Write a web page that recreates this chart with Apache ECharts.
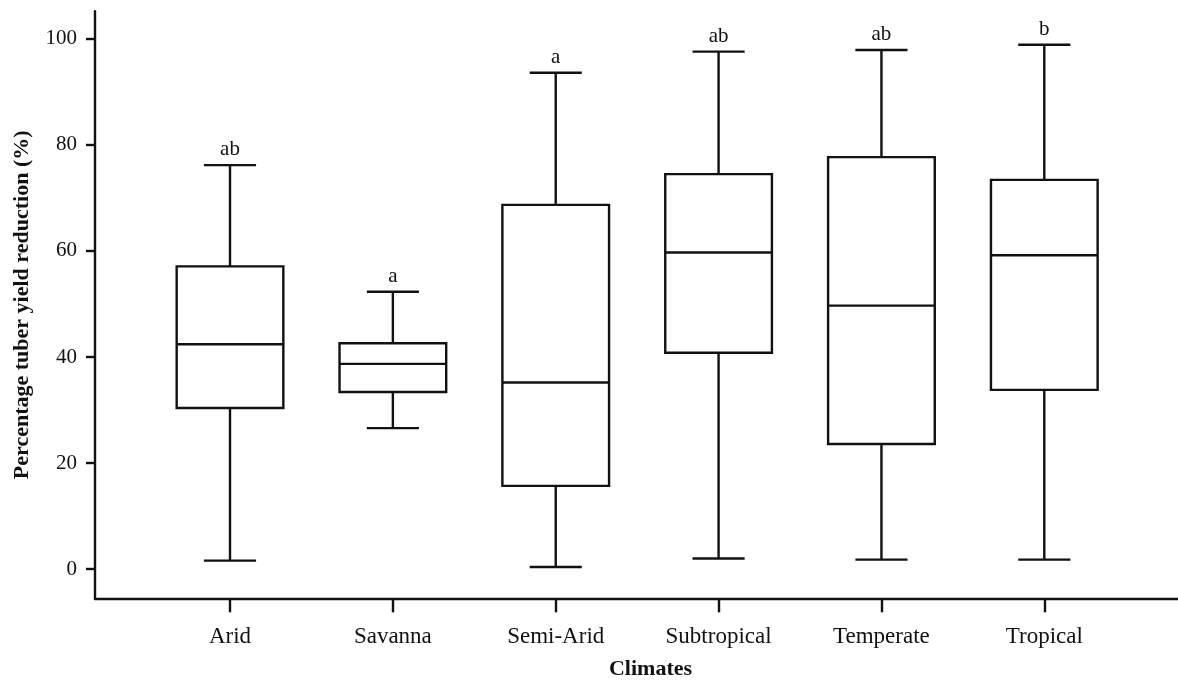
<!DOCTYPE html>
<html>
<head>
<meta charset="utf-8">
<script src="https://cdn.jsdelivr.net/npm/echarts@6/dist/echarts.min.js"></script>
<style>
  html, body { margin: 0; padding: 0; background: #fff; }
  #chart { width: 1178px; height: 682px; }
</style>
</head>
<body>
<div id="chart"></div>
<script>
// Climate groups and their five-number summaries (% tuber yield reduction)
const categories = ['Arid', 'Savanna', 'Semi-Arid', 'Subtropical', 'Temperate', 'Tropical'];
const minVals    = [1.6, 26.6, 0.4, 2.0, 1.8, 1.8];
const q1Vals     = [30.4, 33.4, 15.7, 40.8, 23.6, 33.8];
const medianVals = [42.4, 38.7, 35.2, 59.7, 49.7, 59.2];
const q3Vals     = [57.1, 42.6, 68.7, 74.5, 77.7, 73.4];
const maxVals    = [76.2, 52.3, 93.6, 97.6, 97.9, 98.9];
// Significance letters shown above each upper whisker
const letters    = ['ab', 'a', 'a', 'ab', 'ab', 'b'];
const yTicks     = [0, 20, 40, 60, 80, 100];

const catIndex = categories.map((_, i) => i);
const rows = categories.map((_, i) => [i, minVals[i], q1Vals[i], medianVals[i], q3Vals[i], maxVals[i]]);

const FONT = '"Liberation Serif", "Times New Roman", serif';
const INK = '#111';
const LW = 2.4;

const chart = echarts.init(document.getElementById('chart'));

function renderBox(params, api) {
  const i = api.value(0);
  const lo = api.coord([i, api.value(1)]);
  const q1 = api.coord([i, api.value(2)]);
  const md = api.coord([i, api.value(3)]);
  const q3 = api.coord([i, api.value(4)]);
  const hi = api.coord([i, api.value(5)]);
  const band = api.size([1, 0])[0];
  const bw = band * 0.655;
  const cw = band * 0.32;
  const x = lo[0];
  const ls = { stroke: INK, lineWidth: LW };
  const seg = (x1, y1, x2, y2) => ({ type: 'line', shape: { x1, y1, x2, y2 }, style: ls });
  return {
    type: 'group',
    children: [
      seg(x, q3[1], x, hi[1]),
      seg(x, q1[1], x, lo[1]),
      seg(x - cw / 2, hi[1], x + cw / 2, hi[1]),
      seg(x - cw / 2, lo[1], x + cw / 2, lo[1]),
      { type: 'rect', shape: { x: x - bw / 2, y: q3[1], width: bw, height: q1[1] - q3[1] },
        style: { fill: '#fff', stroke: INK, lineWidth: LW } },
      seg(x - bw / 2, md[1], x + bw / 2, md[1]),
      { type: 'text', x: x, y: hi[1] - 5,
        style: { text: letters[params.dataIndex], fill: INK, font: '21px ' + FONT,
                 align: 'center', verticalAlign: 'bottom' } }
    ]
  };
}

chart.setOption({
  animation: false,
  backgroundColor: '#fff',
  grid: { left: 95, right: 0, top: 11.3, bottom: 83.7, containLabel: false, outerBoundsMode: 'none' },
  xAxis: {
    type: 'value',
    min: -0.829,
    max: 5.821,
    name: 'Climates',
    nameLocation: 'middle',
    nameGap: 60,
    nameTextStyle: { fontFamily: FONT, fontWeight: 'bold', fontSize: 22, color: INK, padding: [0, 0, 0, 28] },
    axisLine: { show: true, onZero: false, lineStyle: { color: INK, width: LW } },
    axisTick: { show: true, customValues: catIndex, length: 14, lineStyle: { color: INK, width: LW } },
    axisLabel: { show: true, customValues: catIndex, formatter: v => categories[v] ?? '',
                 fontFamily: FONT, fontSize: 23, color: INK, margin: 27 },
    splitLine: { show: false }
  },
  yAxis: {
    type: 'value',
    min: -5.5,
    max: 105.2,
    name: 'Percentage tuber yield reduction (%)',
    nameLocation: 'middle',
    nameRotate: 90,
    nameGap: 62,
    nameTextStyle: { fontFamily: FONT, fontWeight: 'bold', fontSize: 22, color: INK },
    axisLine: { show: true, onZero: false, lineStyle: { color: INK, width: LW } },
    axisTick: { show: true, customValues: yTicks, length: 9, lineStyle: { color: INK, width: LW } },
    axisLabel: { show: true, customValues: yTicks, fontFamily: FONT, fontSize: 21, color: INK, margin: 18 },
    splitLine: { show: false }
  },
  series: [{
    type: 'custom',
    renderItem: renderBox,
    data: rows,
    encode: { x: 0, y: [1, 2, 3, 4, 5] },
    clip: false
  }]
});
</script>
</body>
</html>
